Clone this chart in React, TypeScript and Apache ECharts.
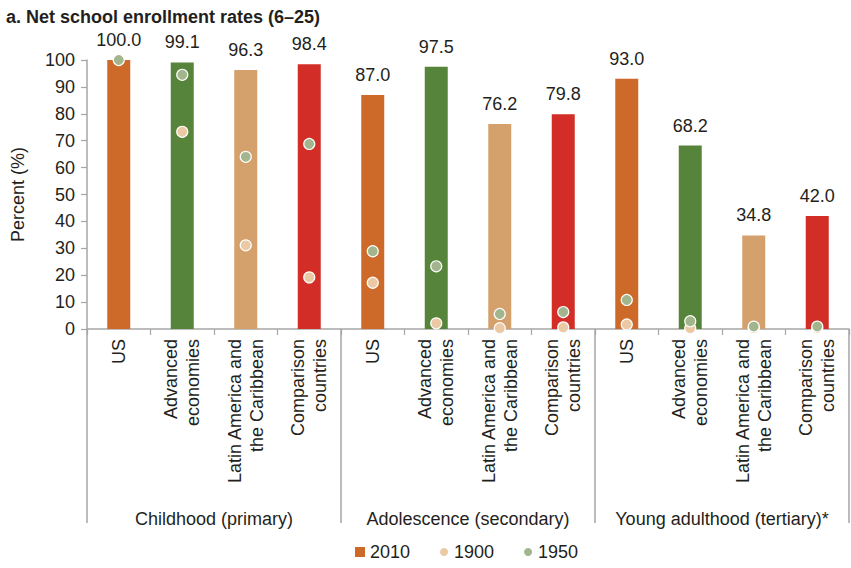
import React, { useEffect, useRef } from "react";
import * as echarts from "echarts";

const groups = ["Childhood (primary)", "Adolescence (secondary)", "Young adulthood (tertiary)*"];
const regions = ["US", "Advanced\neconomies", "Latin America and\nthe Caribbean", "Comparison\ncountries"];
const regionColors = ["#cd6a2a", "#57843b", "#d4a06b", "#d22e27"];
const values2010 = [100.0, 99.1, 96.3, 98.4, 87.0, 97.5, 76.2, 79.8, 93.0, 68.2, 34.8, 42.0];
const values1900 = [null, 73.3, 31.1, 19.2, 17.2, 2.1, 0.3, 0.6, 1.7, 0.3, 0.3, 0.3];
const values1950 = [100.0, 94.5, 64.0, 68.8, 28.9, 23.3, 5.6, 6.3, 10.8, 2.9, 0.9, 0.9];
const yTicks = { min: 0, max: 100, interval: 10 };

const FONT = "'Liberation Sans', Arial, sans-serif";
const TEXT = "#231f20";
const AXIS = "#a6a6a6";

export default function App() {
  const ref = useRef<HTMLDivElement>(null);
  useEffect(() => {
    if (!ref.current) return;
    const chart = echarts.init(ref.current, undefined, { renderer: "svg" });
    const categories = groups.flatMap(() => regions);
    chart.setOption({
      animation: false,
      textStyle: { fontFamily: FONT },
      title: {
        text: "a. Net school enrollment rates (6–25)",
        left: 6,
        top: 8,
        padding: 0,
        textStyle: { fontSize: 18, fontWeight: "bold", color: TEXT, fontFamily: FONT },
      },
      legend: {
        data: [
          { name: "2010", icon: "rect" },
          { name: "1900", icon: "circle" },
          { name: "1950", icon: "circle" },
        ],
        left: 355,
        top: 543,
        padding: 0,
        itemWidth: 10,
        itemHeight: 10,
        itemGap: 28,
        textStyle: { fontSize: 18, color: TEXT, fontFamily: FONT },
      },
      grid: { left: 87, right: 2, top: 60, bottom: 239, containLabel: false },
      xAxis: [
        {
          type: "category",
          data: categories,
          position: "bottom",
          axisLine: { show: true, lineStyle: { color: AXIS, width: 1.5 } },
          axisTick: { show: true, length: 6, lineStyle: { color: AXIS, width: 1.2 } },
          axisLabel: {
            interval: 0,
            rotate: 90,
            margin: 10,
            fontSize: 18,
            lineHeight: 22,
            color: TEXT,
            fontFamily: FONT,
          },
        },
        {
          type: "category",
          data: groups,
          position: "bottom",
          axisLine: { show: false },
          axisTick: { show: true, length: 194, lineStyle: { color: AXIS, width: 1.5 } },
          axisLabel: { interval: 0, margin: 181, fontSize: 18, color: TEXT, fontFamily: FONT },
        },
      ],
      yAxis: {
        type: "value",
        min: yTicks.min,
        max: yTicks.max,
        interval: yTicks.interval,
        name: "Percent (%)",
        nameLocation: "middle",
        nameGap: 60,
        nameTextStyle: { fontSize: 18, color: TEXT, fontFamily: FONT },
        axisLine: { show: true, lineStyle: { color: AXIS, width: 1.5 } },
        axisTick: { show: true, length: 6, lineStyle: { color: AXIS, width: 1.2 } },
        axisLabel: { fontSize: 18, color: TEXT, margin: 12, fontFamily: FONT },
        splitLine: { show: false },
      },
      series: [
        {
          name: "2010",
          type: "bar",
          barWidth: 23,
          itemStyle: { color: regionColors[0] },
          data: values2010.map((v, i) => ({
            value: v,
            itemStyle: { color: regionColors[i % regionColors.length] },
          })),
          label: {
            show: true,
            position: "top",
            distance: 11,
            fontSize: 18,
            color: TEXT,
            fontFamily: FONT,
            formatter: (p: any) => Number(p.value).toFixed(1),
          },
          z: 2,
        },
        {
          name: "1900",
          type: "scatter",
          symbol: "circle",
          symbolSize: 11,
          itemStyle: { color: "#eac9a4", borderColor: "#ffffff", borderWidth: 1.2, opacity: 1 },
          data: values1900,
          z: 3,
        },
        {
          name: "1950",
          type: "scatter",
          symbol: "circle",
          symbolSize: 11,
          itemStyle: { color: "#a2b58c", borderColor: "#ffffff", borderWidth: 1.2, opacity: 1 },
          data: values1950,
          z: 4,
        },
      ],
    });
    return () => chart.dispose();
  }, []);
  return (
    <div
      ref={ref}
      style={{ position: "absolute", left: 0, top: 0, width: 851, height: 568 }}
    />
  );
}
